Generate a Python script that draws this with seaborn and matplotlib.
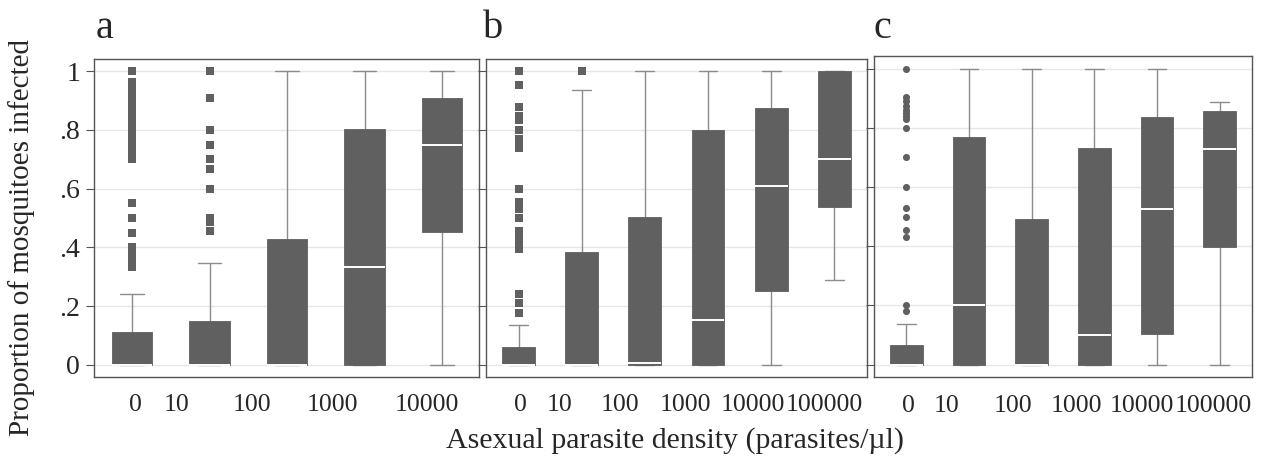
import numpy as np
import pandas as pd
import matplotlib
matplotlib.use("Agg")
import matplotlib.pyplot as plt
import seaborn as sns

# ---------------- data ----------------
groups_a = ["0", "10", "100", "1000", "10000"]
groups_bc = ["0", "10", "100", "1000", "10000", "100000"]

a_q1 = [0.0, 0.0, 0.0, 0.0, 0.452]
a_med = [0.0, 0.0, 0.0, 0.333, 0.748]
a_q3 = [0.110, 0.148, 0.428, 0.802, 0.908]
a_lo = [0.0, 0.0, 0.0, 0.0, 0.0]
a_hi = [0.242, 0.348, 1.0, 1.0, 1.0]
a_fliers = {
    "0": [1.0, 0.965, 0.955, 0.945, 0.935, 0.925, 0.915, 0.905, 0.895, 0.885, 0.875,
          0.865, 0.855, 0.84, 0.83, 0.82, 0.81, 0.80, 0.79, 0.78, 0.77, 0.76, 0.75,
          0.74, 0.73, 0.72, 0.71, 0.70, 0.55, 0.50, 0.45, 0.40, 0.39, 0.38, 0.375,
          0.36, 0.333],
    "10": [1.0, 0.909, 0.80, 0.75, 0.70, 0.667, 0.60, 0.50, 0.486, 0.455],
}

b_q1 = [0.0, 0.0, 0.0, 0.0, 0.252, 0.539]
b_med = [0.0, 0.0, 0.007, 0.153, 0.610, 0.700]
b_q3 = [0.060, 0.384, 0.502, 0.800, 0.876, 1.0]
b_lo = [0.0, 0.0, 0.0, 0.0, 0.0, 0.290]
b_hi = [0.136, 0.936, 1.0, 1.0, 1.0, 1.0]
b_fliers = {
    "0": [1.0, 0.953, 0.879, 0.846, 0.833, 0.80, 0.769, 0.75, 0.737, 0.60, 0.556,
          0.529, 0.50, 0.455, 0.438, 0.421, 0.394, 0.241, 0.211, 0.176],
    "10": [1.0],
}

c_q1 = [0.0, 0.0, 0.0, 0.0, 0.105, 0.399]
c_med = [0.0, 0.200, 0.0, 0.100, 0.526, 0.730]
c_q3 = [0.066, 0.770, 0.491, 0.731, 0.836, 0.856]
c_lo = [0.0, 0.0, 0.0, 0.0, 0.0, 0.0]
c_hi = [0.139, 1.0, 1.0, 1.0, 1.0, 0.887]
c_fliers = {
    "0": [1.0, 0.905, 0.89, 0.875, 0.86, 0.85, 0.84, 0.83, 0.80, 0.70, 0.60,
          0.53, 0.50, 0.455, 0.43, 0.20, 0.18],
}

y_ticks = [0, 0.2, 0.4, 0.6, 0.8, 1.0]
y_ticklabels = ["0", ".2", ".4", ".6", ".8", "1"]

# tick-label placement (layout, in category units)
tickpos_a = [0.04, 0.57, 1.55, 2.58, 3.80]
tickpos_b = [0.02, 0.65, 1.60, 2.64, 3.71, 4.84]
tickpos_c = [0.04, 0.65, 1.70, 2.72, 3.76, 4.89]

# ---------------- style ----------------
sns.set_style("white")
plt.rcParams["font.family"] = ["Liberation Serif", "DejaVu Serif"]

BOX = "#606060"
WHISK = "#8c8c8c"
GRID = "#e6e6e6"
FRAME = "#555555"

W, H = 1266, 463
fig = plt.figure(figsize=(W / 100, H / 100), dpi=100)


def fx(px):
    return px / W


def fy(px):
    return 1 - px / H


def make_ax(l, r, t, b):
    return fig.add_axes([fx(l), fy(b), fx(r - l), (b - t) / H])


ax_a = make_ax(94, 479.3, 59.3, 376.7)
ax_b = make_ax(486, 866.7, 59.3, 376.7)
ax_c = make_ax(874, 1252.3, 55.5, 377.3)

panels = [
    (ax_a, groups_a, a_q1, a_med, a_q3, a_lo, a_hi, a_fliers, "s", tickpos_a,
     (-0.49, 4.48), (-0.0409, 1.0409), "a", True),
    (ax_b, groups_bc, b_q1, b_med, b_q3, b_lo, b_hi, b_fliers, "s", tickpos_b,
     (-0.518, 5.515), (-0.0409, 1.0409), "b", False),
    (ax_c, groups_bc, c_q1, c_med, c_q3, c_lo, c_hi, c_fliers, "o", tickpos_c,
     (-0.515, 5.52), (-0.0426, 1.0446), "c", False),
]

for (ax, groups, q1, med, q3, lo, hi, fliers, mk, tpos, xl, yl, letter, ylab) in panels:
    stats = []
    for i, g in enumerate(groups):
        stats.append(dict(med=med[i], q1=q1[i], q3=q3[i], whislo=lo[i],
                          whishi=hi[i], fliers=[], label=g))
    n = len(groups)
    ax.bxp(stats, positions=list(range(n)), widths=0.52, capwidths=0.3,
           showfliers=False, patch_artist=True,
           boxprops=dict(facecolor=BOX, edgecolor=BOX, linewidth=0.6, zorder=3),
           medianprops=dict(color="white", linewidth=1.4, zorder=4),
           whiskerprops=dict(color=WHISK, linewidth=1.0, zorder=2),
           capprops=dict(color=WHISK, linewidth=1.0, zorder=2))

    rows = []
    for g, vals in fliers.items():
        for v in vals:
            rows.append({"pos": groups.index(g), "value": v})
    df = pd.DataFrame(rows)
    sns.scatterplot(data=df, x="pos", y="value", marker=mk, s=26, color=BOX,
                    linewidth=0, ax=ax, legend=False, zorder=3)

    ax.set_xlim(*xl)
    ax.set_ylim(*yl)
    ax.set_xlabel("")
    ax.set_ylabel("")
    ax.set_yticks(y_ticks)
    ax.yaxis.grid(True, color=GRID, linewidth=1.0, zorder=0)
    ax.set_axisbelow(True)
    ax.tick_params(axis="y", left=True, length=6, width=0.8, color=FRAME,
                   labelsize=20, pad=4, labelleft=ylab)
    if ylab:
        ax.set_yticklabels(y_ticklabels)
    ax.set_xticks(tpos)
    ax.set_xticklabels(groups)
    ax.tick_params(axis="x", bottom=False, labelsize=18.5, pad=9)
    for sp in ax.spines.values():
        sp.set_visible(True)
        sp.set_color(FRAME)
        sp.set_linewidth(1.0)

# panel letters
fig.text(fx(105), fy(38), "a", fontsize=29, ha="center", va="baseline")
fig.text(fx(493), fy(38), "b", fontsize=29, ha="center", va="baseline")
fig.text(fx(882), fy(38), "c", fontsize=29, ha="center", va="baseline")

fig.text(fx(675), fy(441), "Asexual parasite density (parasites/\u00b5l)",
         fontsize=21.5, ha="center", va="center")
fig.text(fx(22), fy(238), "Proportion of mosquitoes infected", fontsize=21,
         ha="center", va="center", rotation=90)

fig.savefig("out.png", dpi=100, facecolor="white")
